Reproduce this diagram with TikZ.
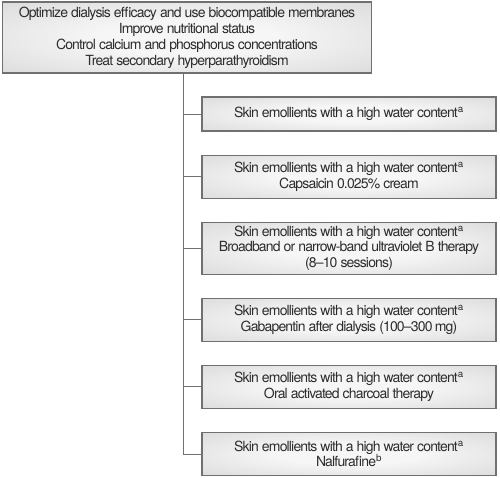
\documentclass[tikz,border=0pt]{standalone}
\usepackage{fontspec}
\setmainfont{TeX Gyre Heros}[LetterSpace=-6]
\definecolor{edge}{RGB}{112, 112, 112}
\definecolor{ink}{RGB}{45, 45, 45}
\definecolor{boxlight}{RGB}{246, 246, 246}
\definecolor{boxdark}{RGB}{192, 192, 192}
\usetikzlibrary{positioning}
\pgfdeclareradialshading{boxglow}{\pgfpoint{0bp}{0bp}}{color(0bp)=(boxlight); color(12bp)=(boxlight); color(62bp)=(boxdark); color(72bp)=(boxdark)}

\begin{document}
\begin{tikzpicture}[x=1pt, y=-1pt,
    box/.style={draw=edge, line width=1.1pt, shading=boxglow, align=center, text=ink,
                font=\fontsize{14}{15.5}\selectfont, inner sep=3pt, minimum height=43pt},
    side/.style={box, minimum width=294pt},
    link/.style={draw=edge, line width=1pt},
  ]
  \useasboundingbox (0,0) rectangle (500,477);

  \node[box, minimum width=369pt, minimum height=71pt, font=\fontsize{14}{16}\selectfont] (top) at (187,37.5)
    {Optimize dialysis efficacy and use biocompatible membranes\\
     Improve nutritional status\\
     Control calcium and phosphorus concentrations\\
     Treat secondary hyperparathyroidism};

  \node[side, minimum height=34pt] (b1) at (349,114)
    {Skin emollients with a high water content\textsuperscript{a}};
  \node[side, below=23pt of b1] (b2)
    {Skin emollients with a high water content\textsuperscript{a}\\
     Capsaicin 0.025\% cream};
  \node[side, minimum height=52pt, below=23pt of b2] (b3)
    {Skin emollients with a high water content\textsuperscript{a}\\
     Broadband or narrow-band ultraviolet B therapy\\
     (8--10 sessions)};
  \node[side, below=23pt of b3] (b4)
    {Skin emollients with a high water content\textsuperscript{a}\\
     Gabapentin after dialysis (100--300\,mg)};
  \node[side, below=23pt of b4] (b5)
    {Skin emollients with a high water content\textsuperscript{a}\\
     Oral activated charcoal therapy};
  \node[side, below=23pt of b5] (b6)
    {Skin emollients with a high water content\textsuperscript{a}\\
     Nalfurafine\textsuperscript{b}};

  % trunk from the top box, one branch per box
  \coordinate (trunk) at (183,73);
  \draw[link] (top.south -| trunk) |- (b6.west);
  \foreach \b in {b1,b2,b3,b4,b5}
    \draw[link] (trunk |- \b.west) -- (\b.west);
\end{tikzpicture}
\end{document}
